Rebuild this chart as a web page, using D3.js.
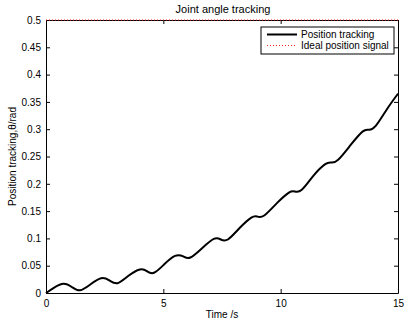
<!DOCTYPE html>
<html>
<head>
<meta charset="utf-8">
<script src="https://cdn.jsdelivr.net/npm/d3@7"></script>
<style>
  html, body { margin: 0; padding: 0; background: #fff; }
  svg { display: block; font-family: "Liberation Sans", Arial, Helvetica, sans-serif; }
</style>
</head>
<body>
<svg id="chart" width="407" height="324"></svg>
<script>
// Time samples (s) and measured joint angle (rad)
const timeS = [0, 0.35, 0.75, 1.1, 1.45, 1.9, 2.35, 2.7, 3.05, 3.5, 4.0, 4.3, 4.6, 5.05, 5.5, 5.85,
  6.15, 6.65, 7.15, 7.45, 7.75, 8.25, 8.75, 9.0, 9.3, 9.85, 10.35, 10.6, 10.9, 11.4, 11.9, 12.15,
  12.45, 13.0, 13.5, 13.75, 14.05, 14.55, 15];
const positionTracking = [0, 0.010, 0.017, 0.011, 0.005, 0.016, 0.027, 0.023, 0.018, 0.031, 0.043, 0.040,
  0.037, 0.053, 0.068, 0.067, 0.065, 0.082, 0.099, 0.098, 0.098, 0.119, 0.138, 0.140, 0.142, 0.165,
  0.184, 0.186, 0.189, 0.215, 0.236, 0.239, 0.244, 0.272, 0.296, 0.299, 0.306, 0.338, 0.365];
// Ideal (reference) position signal
const idealTime = [0, 15];
const idealPosition = [0.5, 0.5];

const xTicks = [0, 5, 10, 15];
const yTicks = [0, 0.05, 0.1, 0.15, 0.2, 0.25, 0.3, 0.35, 0.4, 0.45, 0.5];
const seriesNames = ["Position tracking", "Ideal position signal"];

const svg = d3.select("#chart");
const m = { left: 46, right: 398, top: 20, bottom: 293 };

const x = d3.scaleLinear().domain([0, 15]).range([m.left, m.right]);
const y = d3.scaleLinear().domain([0, 0.5]).range([m.bottom, m.top]);

const fmt = d => (d === 0 ? "0" : String(+d.toFixed(2)));
const tickLen = 4;

// Axes with inward ticks on all four sides
const gx = svg.append("g").attr("transform", `translate(0,${m.bottom})`)
  .call(d3.axisBottom(x).tickValues(xTicks).tickFormat(fmt).tickSizeInner(-tickLen).tickSizeOuter(0).tickPadding(7));
const gxt = svg.append("g").attr("transform", `translate(0,${m.top})`)
  .call(d3.axisTop(x).tickValues(xTicks).tickFormat("").tickSizeInner(-tickLen).tickSizeOuter(0));
const gy = svg.append("g").attr("transform", `translate(${m.left},0)`)
  .call(d3.axisLeft(y).tickValues(yTicks).tickFormat(fmt).tickSizeInner(-tickLen).tickSizeOuter(0).tickPadding(5));
const gyr = svg.append("g").attr("transform", `translate(${m.right},0)`)
  .call(d3.axisRight(y).tickValues(yTicks).tickFormat("").tickSizeInner(-tickLen).tickSizeOuter(0));

[gx, gxt, gy, gyr].forEach(g => {
  g.selectAll(".domain").attr("stroke", "#000").attr("stroke-width", 1);
  g.selectAll(".tick line").attr("stroke", "#000").attr("stroke-width", 1);
  g.selectAll(".tick text").attr("fill", "#000").style("font-size", "10px");
});

// Data series
const trackPts = timeS.map((t, i) => [t, positionTracking[i]]);
const idealPts = idealTime.map((t, i) => [t, idealPosition[i]]);

svg.append("path")
  .datum(idealPts)
  .attr("fill", "none")
  .attr("stroke", "#ff2020")
  .attr("stroke-width", 1.2)
  .attr("stroke-dasharray", "1,2")
  .attr("d", d3.line().x(d => x(d[0])).y(d => y(d[1])));

svg.append("path")
  .datum(trackPts)
  .attr("fill", "none")
  .attr("stroke", "#000")
  .attr("stroke-width", 2)
  .attr("stroke-linejoin", "round")
  .attr("d", d3.line().curve(d3.curveNatural).x(d => x(d[0])).y(d => y(d[1])));

// Title and axis labels
svg.append("text").attr("x", (m.left + m.right) / 2 + 1).attr("y", 13)
  .attr("text-anchor", "middle").style("font-size", "11px").text("Joint angle tracking");
svg.append("text").attr("x", (m.left + m.right) / 2).attr("y", 318)
  .attr("text-anchor", "middle").style("font-size", "10px").text("Time /s");
svg.append("text")
  .attr("transform", `translate(16,${(m.top + m.bottom) / 2}) rotate(-90)`)
  .attr("text-anchor", "middle").style("font-size", "10px").text("Position tracking,θ/rad");

// Legend
const lg = svg.append("g").attr("transform", "translate(261,27)");
lg.append("rect").attr("width", 133).attr("height", 27)
  .attr("fill", "#fff").attr("stroke", "#000").attr("stroke-width", 1);
const legendStyles = [
  { stroke: "#000", width: 2, dash: null },
  { stroke: "#ff2020", width: 1.2, dash: "1,2" }
];
seriesNames.forEach((name, i) => {
  const yy = 7.5 + i * 11;
  lg.append("line").attr("x1", 6).attr("x2", 36).attr("y1", yy).attr("y2", yy)
    .attr("stroke", legendStyles[i].stroke).attr("stroke-width", legendStyles[i].width)
    .attr("stroke-dasharray", legendStyles[i].dash);
  lg.append("text").attr("x", 40).attr("y", yy + 3.5).style("font-size", "10px").text(name);
});
</script>
</body>
</html>
